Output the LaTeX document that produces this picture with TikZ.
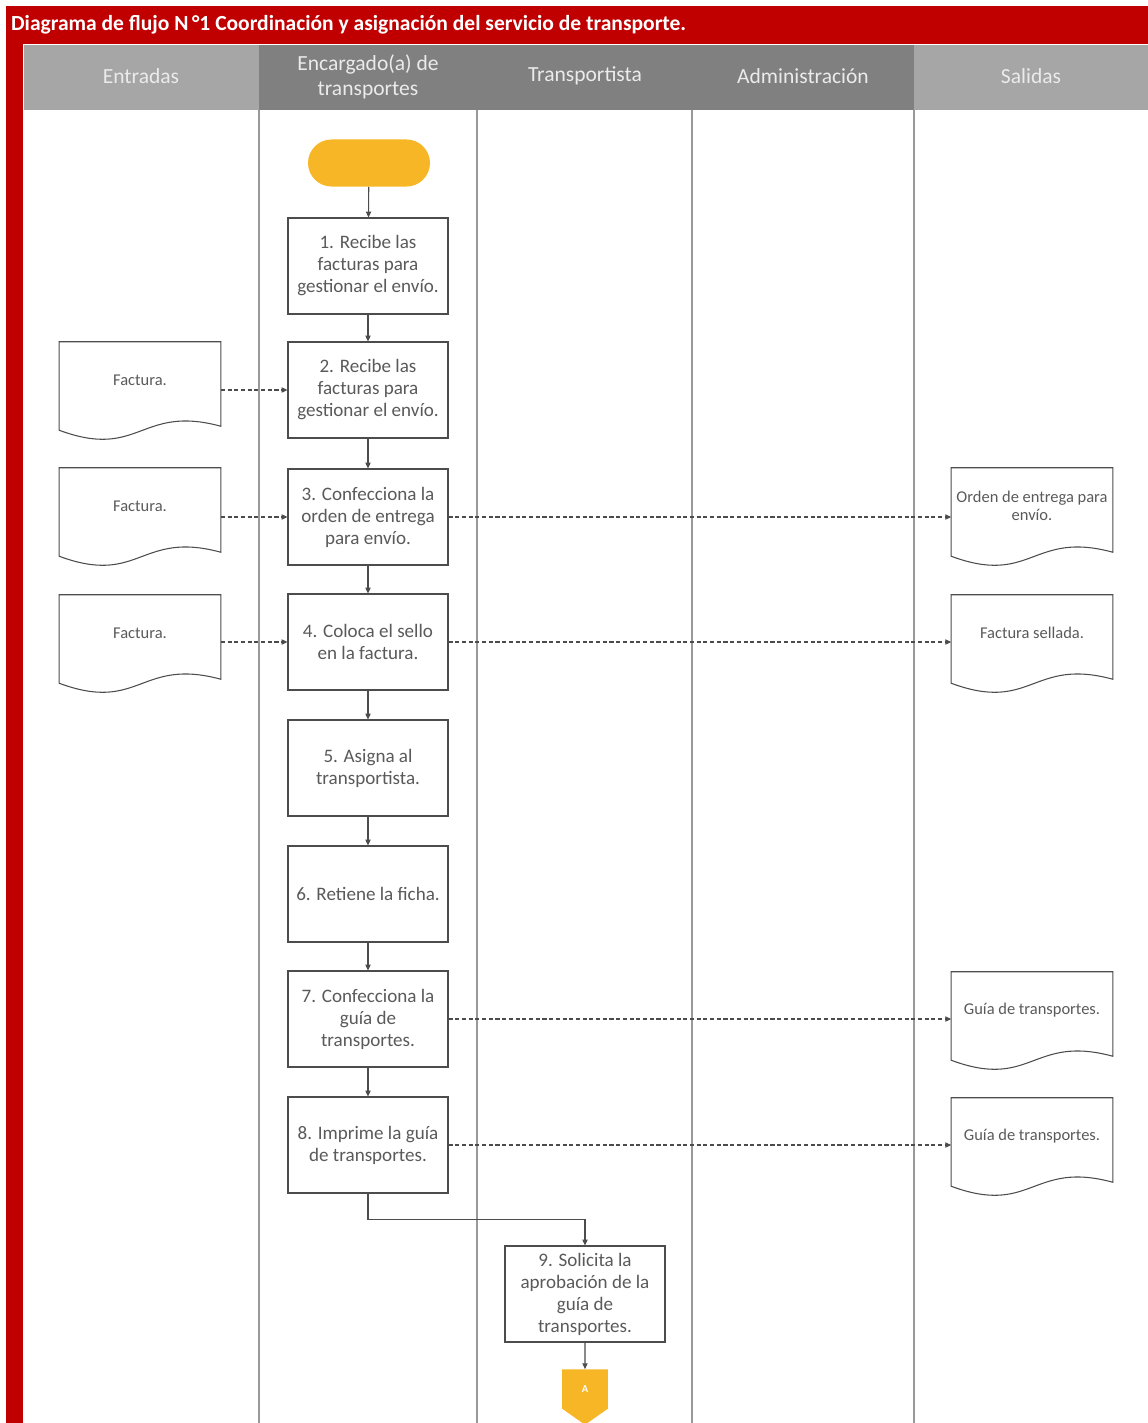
\documentclass[tikz,border=0pt]{standalone}
\usepackage{fontspec}
\setmainfont{Carlito}
\usetikzlibrary{calc,shapes.symbols,arrows.meta}
\definecolor{tred}{RGB}{192,0,0}
\definecolor{hdark}{RGB}{128,128,128}
\definecolor{hlight}{RGB}{166,166,166}
\definecolor{tyellow}{RGB}{247,182,38}
\definecolor{ink}{RGB}{90,90,90}
\begin{document}
\begin{tikzpicture}[x=0.85pt, y=-0.85pt,
  lane/.style={draw=black!40, line width=1.1pt},
  hdr/.style={font=\fontsize{18.3}{21}\selectfont, text=white!92!black, align=center},
  task/.style={draw=black!70, line width=0.9pt, fill=white, minimum width=136pt, minimum height=81.6pt, inner sep=2pt, align=center, text=ink, font=\fontsize{16.2}{18.7}\selectfont},
  doc/.style={minimum width=137pt, minimum height=64.6pt, inner sep=1pt, align=center, text=ink, font=\fontsize{14}{15.3}\selectfont},
  docline/.style={draw=black!70, line width=0.9pt},
  term/.style={fill=tyellow, rounded corners=20pt, minimum width=103.7pt, minimum height=40pt},
  conn/.style={shape=signal, signal to=south, signal from=nowhere, signal pointer angle=110, fill=tyellow, text=white, minimum width=39pt, minimum height=36pt, inner sep=1pt, font=\bfseries\fontsize{9}{10}\selectfont},
  flow/.style={-{Triangle[length=5pt,width=4.5pt]}, draw=black!70, line width=0.9pt},
  dflow/.style={flow, dash pattern=on 3.5pt off 2.2pt}
]
\useasboundingbox (0,0) rectangle (1148,1423);

% Title bar and red frame
\fill[tred] (6,6) rectangle (1148,44);
\fill[tred] (6,6) rectangle (23,1423);
\node[anchor=west, text=white, font=\bfseries\fontsize{18.3}{21}\selectfont] (title) at (7,25)
  {Diagrama de flujo N\,°1 Coordinación y asignación del servicio de transporte.};

% Lane headers
\fill[hlight] (24,45) rectangle (259,110);
\fill[hdark]  (259,45) rectangle (477,110);
\fill[hdark]  (477,45) rectangle (692,110);
\fill[hdark]  (692,45) rectangle (914,110);
\fill[hlight] (914,45) rectangle (1148,110);
\node[hdr] (hin)  at (141,76) {Entradas};
\node[hdr] (henc) at (368,77) {Encargado(a) de\\transportes};
\node[hdr] (htra) at (585,76) {Transportista};
\node[hdr] (hadm) at (803,76) {Administración};
\node[hdr] (hout) at (1031,76) {Salidas};

% Lane dividers
\foreach \x in {259,477,692,914}
  \draw[lane] (\x,110) -- (\x,1423);

% Process steps
\node[term] (start) at (369,163) {};
\node[task] (b1) at (368,266) {1. Recibe las\\facturas para\\gestionar el envío.};
\node[task] (b2) at (368,390) {2. Recibe las\\facturas para\\gestionar el envío.};
\node[task] (b3) at (368,517) {3. Confecciona la\\orden de entrega\\para envío.};
\node[task] (b4) at (368,642) {4. Coloca el sello\\en la factura.};
\node[task] (b5) at (368,768) {5. Asigna al\\transportista.};
\node[task] (b6) at (368,894) {6. Retiene la ficha.};
\node[task] (b7) at (368,1019) {7. Confecciona la\\guía de\\transportes.};
\node[task] (b8) at (368,1145) {8. Imprime la guía\\de transportes.};
\node[task] (b9) at (585,1294) {9. Solicita la\\aprobación de la\\guía de\\transportes.};
\node[conn] (conA) at (585,1389) {A};

% Input and output documents
\node[doc] (fin1) at (140,380) {Factura.};
\node[doc] (fin2) at (140,506) {Factura.};
\node[doc] (fin3) at (140,633) {Factura.};
\node[doc] (fout3) at (1032,506) {Orden de entrega para\\envío.};
\node[doc] (fout4) at (1032,633) {Factura sellada.};
\node[doc] (fout7) at (1032,1010) {Guía de transportes.};
\node[doc] (fout8) at (1032,1136) {Guía de transportes.};
\foreach \d in {fin1,fin2,fin3,fout3,fout4,fout7,fout8}
  \draw[docline] (\d.north west) -- (\d.north east) -- ($(\d.south east)+(0,8)$)
    .. controls ($(\d.south)+(0,-14)$) and ($(\d.south)+(0,42)$) .. ($(\d.south west)+(0,12)$) -- cycle;

% Main flow
\foreach \a/\b in {start/b1,b1/b2,b2/b3,b3/b4,b4/b5,b5/b6,b6/b7,b7/b8}
  \draw[flow] (\a) -- (\b);
\draw[flow] (b8.south) -- ++(0,26) -| (b9.north);
\draw[flow] (b9) -- (conA);

% Documents in and out
\draw[dflow] (fin1.east |- b2) -- (b2);
\draw[dflow] (fin2.east |- b3) -- (b3);
\draw[dflow] (fin3.east |- b4) -- (b4);
\draw[dflow] (b3) -- (b3 -| fout3.west);
\draw[dflow] (b4) -- (b4 -| fout4.west);
\draw[dflow] (b7) -- (b7 -| fout7.west);
\draw[dflow] (b8) -- (b8 -| fout8.west);

\end{tikzpicture}
\end{document}
